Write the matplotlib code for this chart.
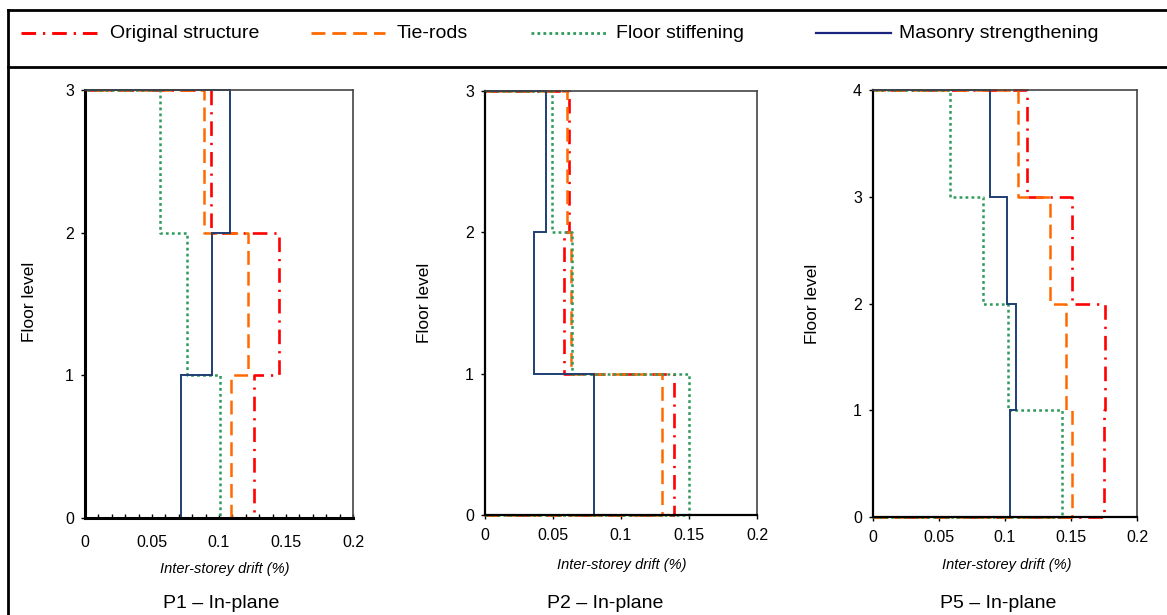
import matplotlib
matplotlib.use('Agg')
import matplotlib.pyplot as plt
from matplotlib.lines import Line2D
from matplotlib.ticker import MultipleLocator

plt.rcParams['font.family'] = ['Liberation Sans', 'DejaVu Sans']
plt.rcParams['lines.scale_dashes'] = False

# Inter-storey drift (%) per storey, from ground floor upwards
series_names = ['Original structure', 'Tie-rods', 'Floor stiffening', 'Masonry strengthening']

p1_original = [0.126, 0.145, 0.094]
p1_tierods = [0.109, 0.122, 0.089]
p1_floor = [0.101, 0.076, 0.056]
p1_masonry = [0.072, 0.095, 0.108]

p2_original = [0.139, 0.058, 0.062]
p2_tierods = [0.130, 0.063, 0.060]
p2_floor = [0.150, 0.064, 0.049]
p2_masonry = [0.080, 0.036, 0.045]

p5_original = [0.175, 0.176, 0.151, 0.117]
p5_tierods = [0.151, 0.1465, 0.134, 0.110]
p5_floor = [0.143, 0.1025, 0.083, 0.058]
p5_masonry = [0.104, 0.108, 0.1015, 0.089]

panel_titles = ['P1 \u2013 In-plane', 'P2 \u2013 In-plane', 'P5 \u2013 In-plane']

# line styles
estilos = [
    dict(color='#FF0000', lw=1.9, linestyle=(0, (10.5, 5, 1.6, 5))),
    dict(color='#FF6A00', lw=1.8, linestyle=(0, (10, 5))),
    dict(color='#2E9A5C', lw=1.8, linestyle=(0, (2, 2.3))),
    dict(color='#1F3F73', lw=1.4, linestyle='-'),
]


def perfil(drifts):
    # step profile: along the floor at y=0, up each storey, back to 0 at the roof
    xs, ys = [0], [0]
    for i, d in enumerate(drifts):
        xs += [d, d]
        ys += [i, i + 1]
    xs.append(0)
    ys.append(len(drifts))
    return xs, ys


fig = plt.figure(figsize=(11.67, 6.15), dpi=100)
W, H = 1167, 615

# frame lines round legend and figure
fig.add_artist(Line2D([8 / W, 1], [1 - 10 / H, 1 - 10 / H], color='black', lw=2, transform=fig.transFigure))
fig.add_artist(Line2D([8 / W, 1], [1 - 67 / H, 1 - 67 / H], color='black', lw=2, transform=fig.transFigure))
fig.add_artist(Line2D([8 / W, 8 / W], [0, 1 - 10 / H], color='black', lw=2, transform=fig.transFigure))

# legend drawn by hand
leg_pos = [(21, 97, 110), (311, 385, 397), (531, 607, 616), (816, 891, 899)]
ly = 1 - 33 / H
for (x0, x1, xt), nome, st in zip(leg_pos, series_names, estilos):
    fig.add_artist(Line2D([x0 / W, x1 / W], [ly, ly], transform=fig.transFigure,
                          color=st['color'] if nome != 'Masonry strengthening' else '#1A237E',
                          lw=st['lw'] + 0.2, linestyle=st['linestyle']))
    fig.text(xt / W, ly, nome, fontsize=14, va='center', ha='left')

paineis = [
    dict(rect=(85, 353, 90, 518), data=[p1_original, p1_tierods, p1_floor, p1_masonry],
         ylab=(-0.179, 0.505), xlab=(0.522, -0.103), tcx=221, style='in'),
    dict(rect=(485, 757, 91, 515), data=[p2_original, p2_tierods, p2_floor, p2_masonry],
         ylab=(-0.195, 0.5), xlab=(0.504, -0.101), tcx=605, style='out'),
    dict(rect=(873, 1137, 90, 517), data=[p5_original, p5_tierods, p5_floor, p5_masonry],
         ylab=(-0.20, 0.5), xlab=(0.508, -0.096), tcx=998, style='out'),
]

for painel, titulo in zip(paineis, panel_titles):
    l, r, t, b = painel['rect']
    ax = fig.add_axes([l / W, 1 - b / H, (r - l) / W, (b - t) / H])
    n = len(painel['data'][0])
    for drifts, st in zip(painel['data'], estilos):
        xs, ys = perfil(drifts)
        ax.plot(xs, ys, clip_on=False, solid_joinstyle='miter', **st)

    ax.set_xlim(0, 0.2)
    ax.set_ylim(0, n)
    ax.yaxis.set_major_locator(MultipleLocator(1))
    ax.set_xticks([0, 0.05, 0.1, 0.15, 0.2])
    ax.set_xticklabels(['0', '0.05', '0.1', '0.15', '0.2'])

    if painel['style'] == 'in':
        ax.xaxis.set_minor_locator(MultipleLocator(0.01))
        ax.tick_params(axis='x', which='both', direction='in', length=3, width=1, pad=12, labelsize=11.5)
        esp = 2.2
    else:
        ax.tick_params(axis='x', direction='out', length=3, width=1, pad=6.5, labelsize=11.5)
        esp = 1.6
    ax.tick_params(axis='y', direction='out', length=3, width=1, pad=5, labelsize=11.5)

    for lado in ['top', 'right']:
        ax.spines[lado].set_color('#444444')
        ax.spines[lado].set_linewidth(1.2)
    for lado in ['left', 'bottom']:
        ax.spines[lado].set_color('black')
        ax.spines[lado].set_linewidth(esp)

    ax.set_ylabel('Floor level', fontsize=12.5)
    ax.yaxis.set_label_coords(*painel['ylab'])
    ax.set_xlabel('Inter-storey drift (%)', fontsize=10.5, style='italic')
    ax.xaxis.set_label_coords(*painel['xlab'])

    fig.text(painel['tcx'] / W, 1 - 604 / H, titulo, fontsize=14, ha='center', va='center')

plt.savefig('out.png', dpi=100)
plt.close()
